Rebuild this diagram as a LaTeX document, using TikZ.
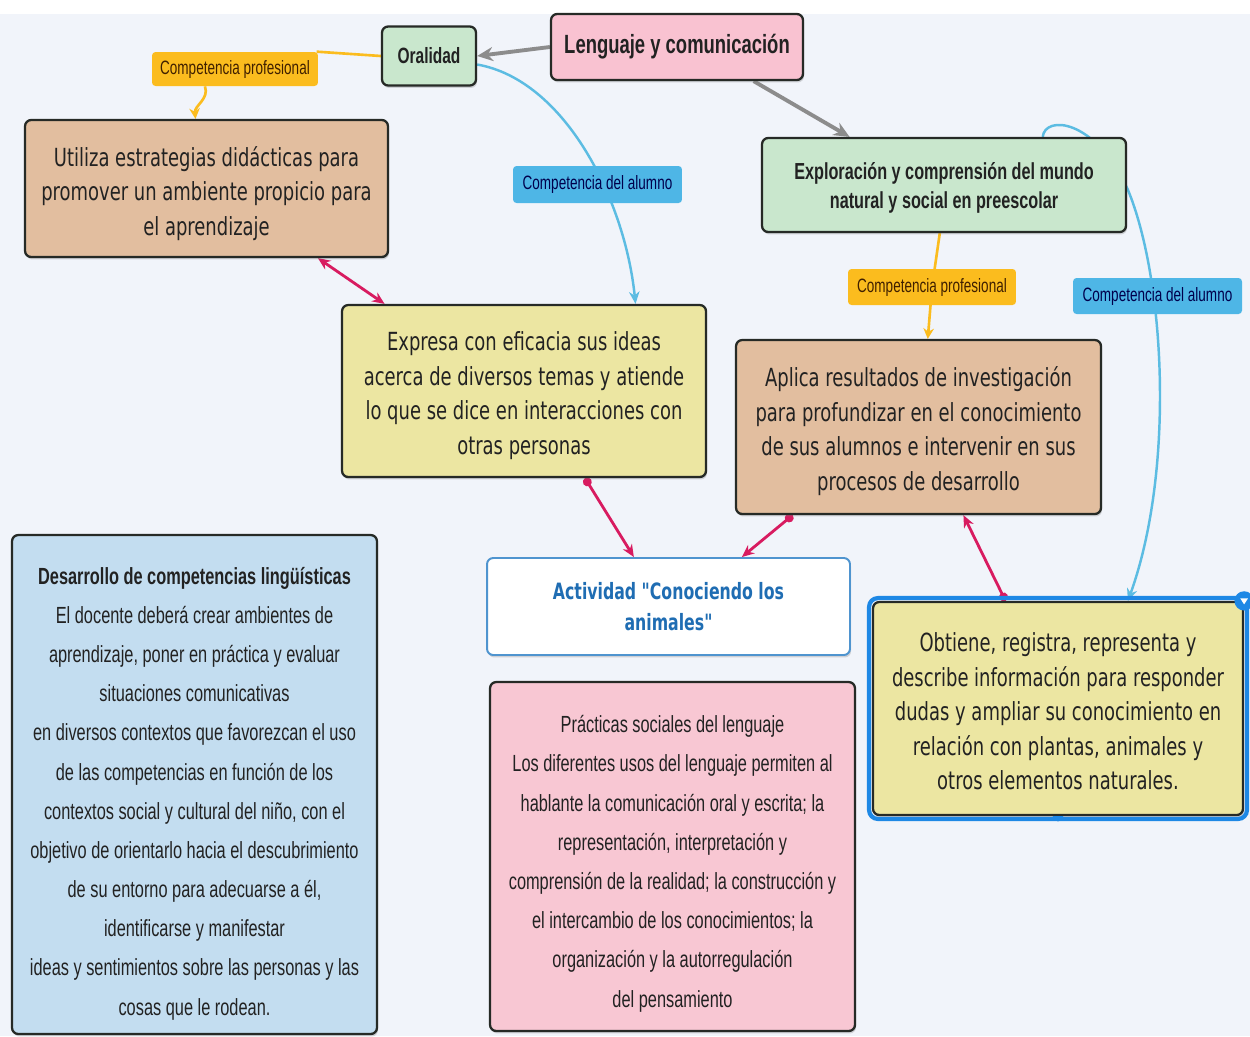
\documentclass[tikz,border=0pt]{standalone}
\usepackage{fontspec}
\setmainfont[FakeStretch=0.72]{DejaVu Sans}
\newfontfamily\arialfont[FakeStretch=0.7]{Liberation Sans}
\newfontfamily\activfont[FakeStretch=0.7]{DejaVu Sans}
\usetikzlibrary{arrows.meta}
\usetikzlibrary{shadows}

\definecolor{bgpage}{HTML}{F1F4FA}
\definecolor{boxline}{HTML}{262A26}
\definecolor{txtdark}{HTML}{222222}
\definecolor{greenbox}{HTML}{C9E7CD}
\definecolor{pinkbox}{HTML}{F9C2D1}
\definecolor{tanbox}{HTML}{E2BE9F}
\definecolor{yellowbox}{HTML}{ECE6A2}
\definecolor{bluebox}{HTML}{C3DDF0}
\definecolor{pinkpale}{HTML}{F8C7D3}
\definecolor{orangetag}{HTML}{FBBC1E}
\definecolor{bluetag}{HTML}{4EB6E6}
\definecolor{linkgray}{HTML}{8C8C8C}
\definecolor{linkblue}{HTML}{5CBCE2}
\definecolor{linkmag}{HTML}{D81B60}
\definecolor{selblue}{HTML}{1E88E5}
\definecolor{activtxt}{HTML}{1F6DB3}
\definecolor{activline}{HTML}{4F94CF}

\pgfdeclarelayer{back}
\pgfdeclarelayer{links}
\pgfsetlayers{back,links,main}

\newcommand{\mainfs}{\fontsize{14.2}{19.6}\selectfont}
\newcommand{\notefs}{\arialfont\fontsize{13.3}{22.3}\selectfont}

\begin{document}
\begin{tikzpicture}[x=0.02cm, y=-0.02cm,
    box/.style={draw=boxline, line width=1.3pt, rounded corners=3.5pt, align=center,
      inner sep=0pt, text=txtdark,
      drop shadow={shadow xshift=0.6pt, shadow yshift=-1.4pt, opacity=0.3}},
    tag/.style={rounded corners=2pt, align=center, inner sep=0pt,
      font=\arialfont\fontsize{11}{13}\selectfont},
    proftag/.style={tag, fill=orangetag, text=black!75!orange},
    alumtag/.style={tag, fill=bluetag, text=black!70!blue},
    grayarrow/.style={linkgray, line width=2.2pt, -{Stealth[length=9pt, width=8pt]}},
    proflink/.style={orangetag, line width=1.5pt, -{Stealth[length=6pt, width=6pt]}},
    alumlink/.style={linkblue, line width=1.4pt, -{Stealth[length=7pt, width=6pt]}},
    maglink/.style={linkmag, line width=1.6pt, {Circle[length=5pt]}-{Stealth[length=7pt, width=6pt]}},
    magboth/.style={linkmag, line width=1.6pt, {Stealth[length=7pt, width=6pt]}-{Stealth[length=7pt, width=6pt]}}]
      \useasboundingbox (0,0) rectangle (1250,1036);

      %% Page
      \begin{pgfonlayer}{back}
        \fill[bgpage] (0,0) rectangle (1250,1036);
        \fill[white] (0,0) rectangle (1250,14);
      \end{pgfonlayer}

      %% Upper nodes
      \node[box, fill=greenbox, minimum width=1.88cm, minimum height=1.18cm,
        font=\arialfont\bfseries\fontsize{12.6}{15}\selectfont] (oral) at (429,56) {Oralidad};
      \node[box, fill=pinkbox, minimum width=5.04cm, minimum height=1.32cm,
        font=\arialfont\bfseries\fontsize{15}{18}\selectfont] (lengua) at (677,47) {Lenguaje y comunicación};
      \node[proftag, minimum width=3.32cm, minimum height=0.68cm] (profA) at (235,69) {Competencia profesional};
      \node[box, fill=tanbox, minimum width=7.26cm, minimum height=2.74cm, font=\mainfs] (utiliza) at (206.5,188.5)
        {\rule{0pt}{17pt}Utiliza estrategias didácticas para\\promover un ambiente propicio para\\el aprendizaje};
      \node[alumtag, minimum width=3.38cm, minimum height=0.74cm] (alumA) at (597.5,184.5) {Competencia del alumno};
      \node[box, fill=greenbox, minimum width=7.28cm, minimum height=1.88cm,
        font=\arialfont\bfseries\fontsize{13.2}{17}\selectfont] (explor) at (944,185)
        {\rule{0pt}{13pt}Exploración y comprensión del mundo\\natural y social en preescolar};
      \node[proftag, minimum width=3.36cm, minimum height=0.72cm] (profB) at (932,287) {Competencia profesional};
      \node[alumtag, minimum width=3.38cm, minimum height=0.72cm] (alumB) at (1157.5,296) {Competencia del alumno};

      %% Middle nodes
      \node[box, fill=yellowbox, minimum width=7.28cm, minimum height=3.44cm, font=\mainfs] (expresa) at (524,391)
        {\rule{0pt}{16pt}Expresa con eficacia sus ideas\\acerca de diversos temas y atiende\\lo que se dice en interacciones con\\otras personas};
      \node[box, fill=tanbox, minimum width=7.3cm, minimum height=3.48cm, font=\mainfs] (aplica) at (918.5,427)
        {\rule{0pt}{16pt}Aplica resultados de investigación\\para profundizar en el conocimiento\\de sus alumnos e intervenir en sus\\procesos de desarrollo};
      \node[box, draw=activline, line width=1.1pt, fill=white, minimum width=7.26cm, minimum height=1.94cm,
        text=activtxt, font=\activfont\bfseries\fontsize{12.8}{18}\selectfont] (activ) at (668.5,606.5)
        {Actividad "Conociendo los\\animales"};
      \node[box, fill=yellowbox, minimum width=7.4cm, minimum height=4.26cm, font=\mainfs] (obtiene) at (1058,708.5)
        {\rule{0pt}{14pt}Obtiene, registra, representa y\\describe información para responder\\dudas y ampliar su conocimiento en\\relación con plantas, animales y\\otros elementos naturales.};
      \draw[selblue, line width=2.4pt, rounded corners=5pt]
        ([shift={(-1.6pt,1.6pt)}]obtiene.north west) rectangle ([shift={(1.6pt,-1.6pt)}]obtiene.south east);
      \fill[selblue] (obtiene.north east) circle (5.5pt);
      \fill[white] ([shift={(-2.2pt,1.4pt)}]obtiene.north east) -- ([shift={(2.2pt,1.4pt)}]obtiene.north east)
        -- ([shift={(0pt,-2pt)}]obtiene.north east) -- cycle;
      \fill[selblue] ([xshift=-3pt]obtiene.south) arc (180:360:3pt);

      %% Notes
      \node[box, fill=bluebox, minimum width=7.3cm, minimum height=9.98cm, font=\notefs] (desarrollo) at (194.5,784.5)
        {\rule{0pt}{20pt}\textbf{Desarrollo de competencias lingüísticas}\\El docente deberá crear ambientes de\\aprendizaje, poner en práctica y evaluar\\situaciones comunicativas\\en diversos contextos que favorezcan el uso\\de las competencias en función de los\\contextos social y cultural del niño, con el\\objetivo de orientarlo hacia el descubrimiento\\de su entorno para adecuarse a él,\\identificarse y manifestar\\ideas y sentimientos sobre las personas y las\\cosas que le rodean.};
      \node[box, fill=pinkpale, minimum width=7.3cm, minimum height=6.98cm, font=\notefs] (practicas) at (672.5,856.5)
        {\rule{0pt}{18pt}Prácticas sociales del lenguaje\\Los diferentes usos del lenguaje permiten al\\hablante la comunicación oral y escrita; la\\representación, interpretación y\\comprensión de la realidad; la construcción y\\el intercambio de los conocimientos; la\\organización y la autorregulación\\del pensamiento};

      %% Connectors
      \begin{pgfonlayer}{links}
        \draw[grayarrow] (lengua.west) -- (oral.east);
        \draw[grayarrow] (lengua.-24) -- (explor.153);
        \draw[orangetag, line width=1.5pt] (oral.west) -- (profA.12);
        \draw[proflink] (profA.210) to[out=-70, in=95] (utiliza.99);
        \draw[proflink] (explor.-95) -- (profB.center) -- (aplica.84);
        \draw[alumlink] (oral.-10) .. controls (565,80) and (625,200) .. (expresa.38);
        \draw[alumlink] (explor.26) .. controls (1045,115) and (1095,118) .. (1128,190)
          .. controls (1165,280) and (1175,470) .. (obtiene.57);
        \draw[magboth] (utiliza.-32) -- (expresa.148);
        \draw[maglink] (expresa.-55) -- (activ.125);
        \draw[maglink] (aplica.215) -- (activ.34);
        \draw[maglink] (obtiene.116) -- (aplica.-63);
      \end{pgfonlayer}

    \end{tikzpicture}
\end{document}
